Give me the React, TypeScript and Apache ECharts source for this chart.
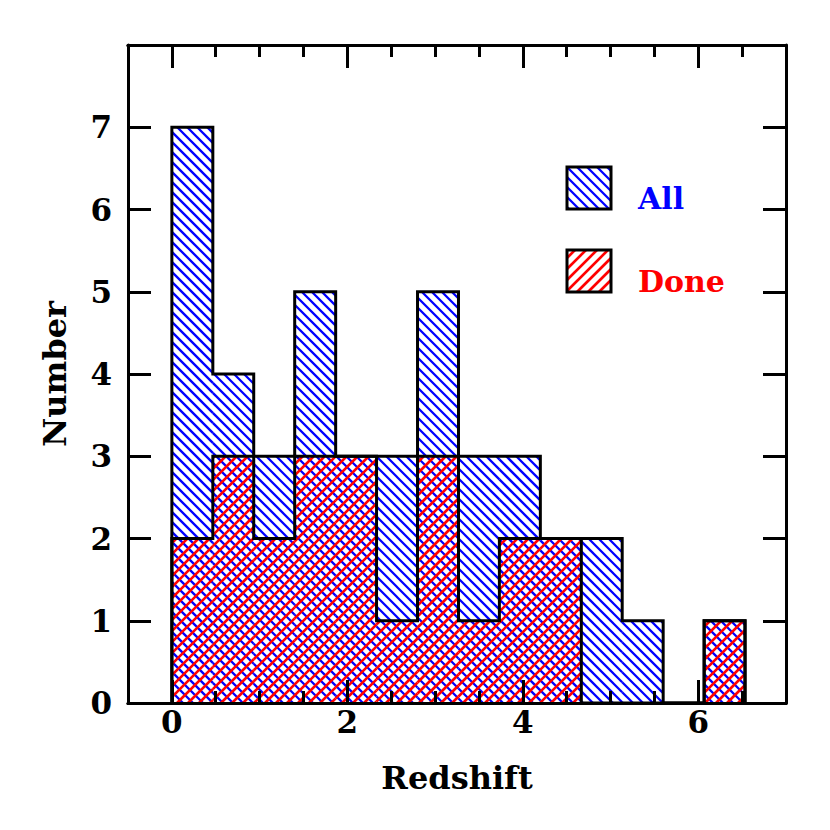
import React, { useEffect, useRef } from "react";
import * as echarts from "echarts";

// ---- data ----
const binEdges = [0, 0.467, 0.933, 1.4, 1.867, 2.333, 2.8, 3.267, 3.733, 4.2, 4.667, 5.133, 5.6, 6.067, 6.533];
const allCounts = [7, 4, 3, 5, 3, 3, 5, 3, 3, 2, 2, 1, 0, 1];
const doneCounts = [2, 3, 2, 3, 3, 1, 3, 1, 2, 2, 0, 0, 0, 1];
const xMajorTicks = [0, 2, 4, 6];
const xMinorTicks = [0.5, 1, 1.5, 2.5, 3, 3.5, 4.5, 5, 5.5, 6.5];
const yTickLabels = [0, 1, 2, 3, 4, 5, 6, 7];
const legendNames = ["All", "Done"];

const BLUE = "#0000ff";
const RED = "#ff0000";
const FONT = "DejaVu Serif";

type Seg = { x1: number; y1: number; x2: number; y2: number };

function hatch(x0: number, y0: number, x1: number, y1: number, sp: number, dir: "down" | "up"): Seg[] {
  const segs: Seg[] = [];
  if (dir === "down") {
    const cMin = Math.ceil((y0 - x1) / sp) * sp;
    for (let c = cMin; c <= y1 - x0; c += sp) {
      const xa = Math.max(x0, y0 - c);
      const xb = Math.min(x1, y1 - c);
      if (xb - xa > 0.3) segs.push({ x1: xa, y1: xa + c, x2: xb, y2: xb + c });
    }
  } else {
    const cMin = Math.ceil((x0 + y0) / sp) * sp;
    for (let c = cMin; c <= x1 + y1; c += sp) {
      const xa = Math.max(x0, c - y1);
      const xb = Math.min(x1, c - y0);
      if (xb - xa > 0.3) segs.push({ x1: xa, y1: c - xa, x2: xb, y2: c - xb });
    }
  }
  return segs;
}

const BLUE_SP = 10;
const RED_SP = 11;
const BLUE_LW = 2.3;
const RED_LW = 2.6;

function binData(counts: number[]) {
  return counts.map((v, i) => [binEdges[i], binEdges[i + 1], v]);
}

function outline(counts: number[]) {
  const pts: number[][] = [[binEdges[0], 0]];
  counts.forEach((v, i) => {
    pts.push([binEdges[i], v]);
    pts.push([binEdges[i + 1], v]);
  });
  pts.push([binEdges[binEdges.length - 1], 0]);
  return pts;
}

function hatchSeries(name: string, counts: number[], color: string, sp: number, dir: "down" | "up", lw: number, z: number) {
  return {
    type: "custom",
    name,
    z,
    coordinateSystem: "cartesian2d",
    encode: { x: [0, 1], y: 2 },
    data: binData(counts),
    renderItem: (params: any, api: any) => {
      const a = api.value(0);
      const b = api.value(1);
      const v = api.value(2);
      if (!v) return { type: "group", children: [] };
      const p0 = api.coord([a, v]);
      const p1 = api.coord([b, 0]);
      const segs = hatch(p0[0], p0[1], p1[0], p1[1], sp, dir);
      return {
        type: "group",
        children: segs.map((s) => ({
          type: "line",
          shape: s,
          style: { stroke: color, lineWidth: lw },
        })),
      };
    },
  };
}

function legendBox(x: number, y: number, w: number, h: number, color: string, sp: number, dir: "down" | "up", lw: number) {
  const segs = hatch(x, y, x + w, y + h, sp, dir);
  return [
    ...segs.map((s) => ({ type: "line", shape: s, style: { stroke: color, lineWidth: lw }, z: 20 })),
    { type: "rect", shape: { x, y, width: w, height: h }, style: { fill: "none", stroke: "#000", lineWidth: 3 }, z: 21 },
  ];
}

export default function App() {
  const ref = useRef<HTMLDivElement>(null);
  useEffect(() => {
    if (!ref.current) return;
    const chart = echarts.init(ref.current, null, { renderer: "svg" });
    const axisLine = { show: true, onZero: false, lineStyle: { color: "#000", width: 3 } };
    const labelStyle = { fontFamily: FONT, fontWeight: "bold", fontSize: 31, color: "#000" };
    const nameStyle = { fontFamily: FONT, fontWeight: "bold", fontSize: 32, color: "#000" };
    const xBase = { type: "value", min: -0.5, max: 7, z: 10, splitLine: { show: false }, axisLine };
    const tickStyle = { color: "#000", width: 3 };
    const option: any = {
      animation: false,
      backgroundColor: "#fff",
      grid: { left: 128, top: 45, width: 658, height: 658 },
      xAxis: [
        {
          ...xBase,
          position: "bottom",
          name: "Redshift",
          nameLocation: "middle",
          nameGap: 59,
          nameTextStyle: nameStyle,
          axisTick: { show: true, inside: true, length: 23, lineStyle: tickStyle, customValues: xMajorTicks },
          axisLabel: { show: true, margin: 3, ...labelStyle, customValues: xMajorTicks },
        },
        {
          ...xBase,
          position: "bottom",
          axisTick: { show: true, inside: true, length: 12, lineStyle: tickStyle, customValues: xMinorTicks },
          axisLabel: { show: false },
        },
        {
          ...xBase,
          position: "top",
          axisTick: { show: true, inside: true, length: 23, lineStyle: tickStyle, customValues: xMajorTicks },
          axisLabel: { show: false },
        },
        {
          ...xBase,
          position: "top",
          axisTick: { show: true, inside: true, length: 12, lineStyle: tickStyle, customValues: xMinorTicks },
          axisLabel: { show: false },
        },
      ],
      yAxis: [
        {
          type: "value",
          min: 0,
          max: 8,
          interval: 1,
          z: 10,
          position: "left",
          splitLine: { show: false },
          axisLine,
          name: "Number",
          nameLocation: "middle",
          nameGap: 57,
          nameRotate: 90,
          nameTextStyle: nameStyle,
          axisTick: { show: true, inside: true, length: 23, lineStyle: tickStyle },
          axisLabel: { show: true, margin: 16, ...labelStyle, customValues: yTickLabels },
        },
        {
          type: "value",
          min: 0,
          max: 8,
          interval: 1,
          z: 10,
          position: "right",
          splitLine: { show: false },
          axisLine,
          axisTick: { show: true, inside: true, length: 23, lineStyle: tickStyle },
          axisLabel: { show: false },
        },
      ],
      series: [
        hatchSeries("All", allCounts, BLUE, BLUE_SP, "down", BLUE_LW, 1),
        hatchSeries("Done", doneCounts, RED, RED_SP, "up", RED_LW, 2),
        {
          type: "line",
          name: "All outline",
          data: outline(allCounts),
          symbol: "none",
          z: 5,
          lineStyle: { color: "#000", width: 3, join: "miter" },
        },
        {
          type: "line",
          name: "Done outline",
          data: outline(doneCounts),
          symbol: "none",
          z: 5,
          lineStyle: { color: "#000", width: 3, join: "miter" },
        },
      ],
      graphic: [
        ...legendBox(567, 167, 44, 42, BLUE, BLUE_SP, "down", BLUE_LW),
        ...legendBox(567, 250, 44, 42, RED, RED_SP, "up", RED_LW),
        {
          type: "text",
          x: 638,
          y: 198,
          z: 20,
          style: { text: legendNames[0], fill: BLUE, fontFamily: FONT, fontWeight: "bold", fontSize: 30, verticalAlign: "middle" },
        },
        {
          type: "text",
          x: 638,
          y: 281,
          z: 20,
          style: { text: legendNames[1], fill: RED, fontFamily: FONT, fontWeight: "bold", fontSize: 30, verticalAlign: "middle" },
        },
      ],
    };
    chart.setOption(option);
    return () => chart.dispose();
  }, []);
  return <div ref={ref} style={{ position: "fixed", left: 0, top: 0, width: 830, height: 830 }} />;
}
